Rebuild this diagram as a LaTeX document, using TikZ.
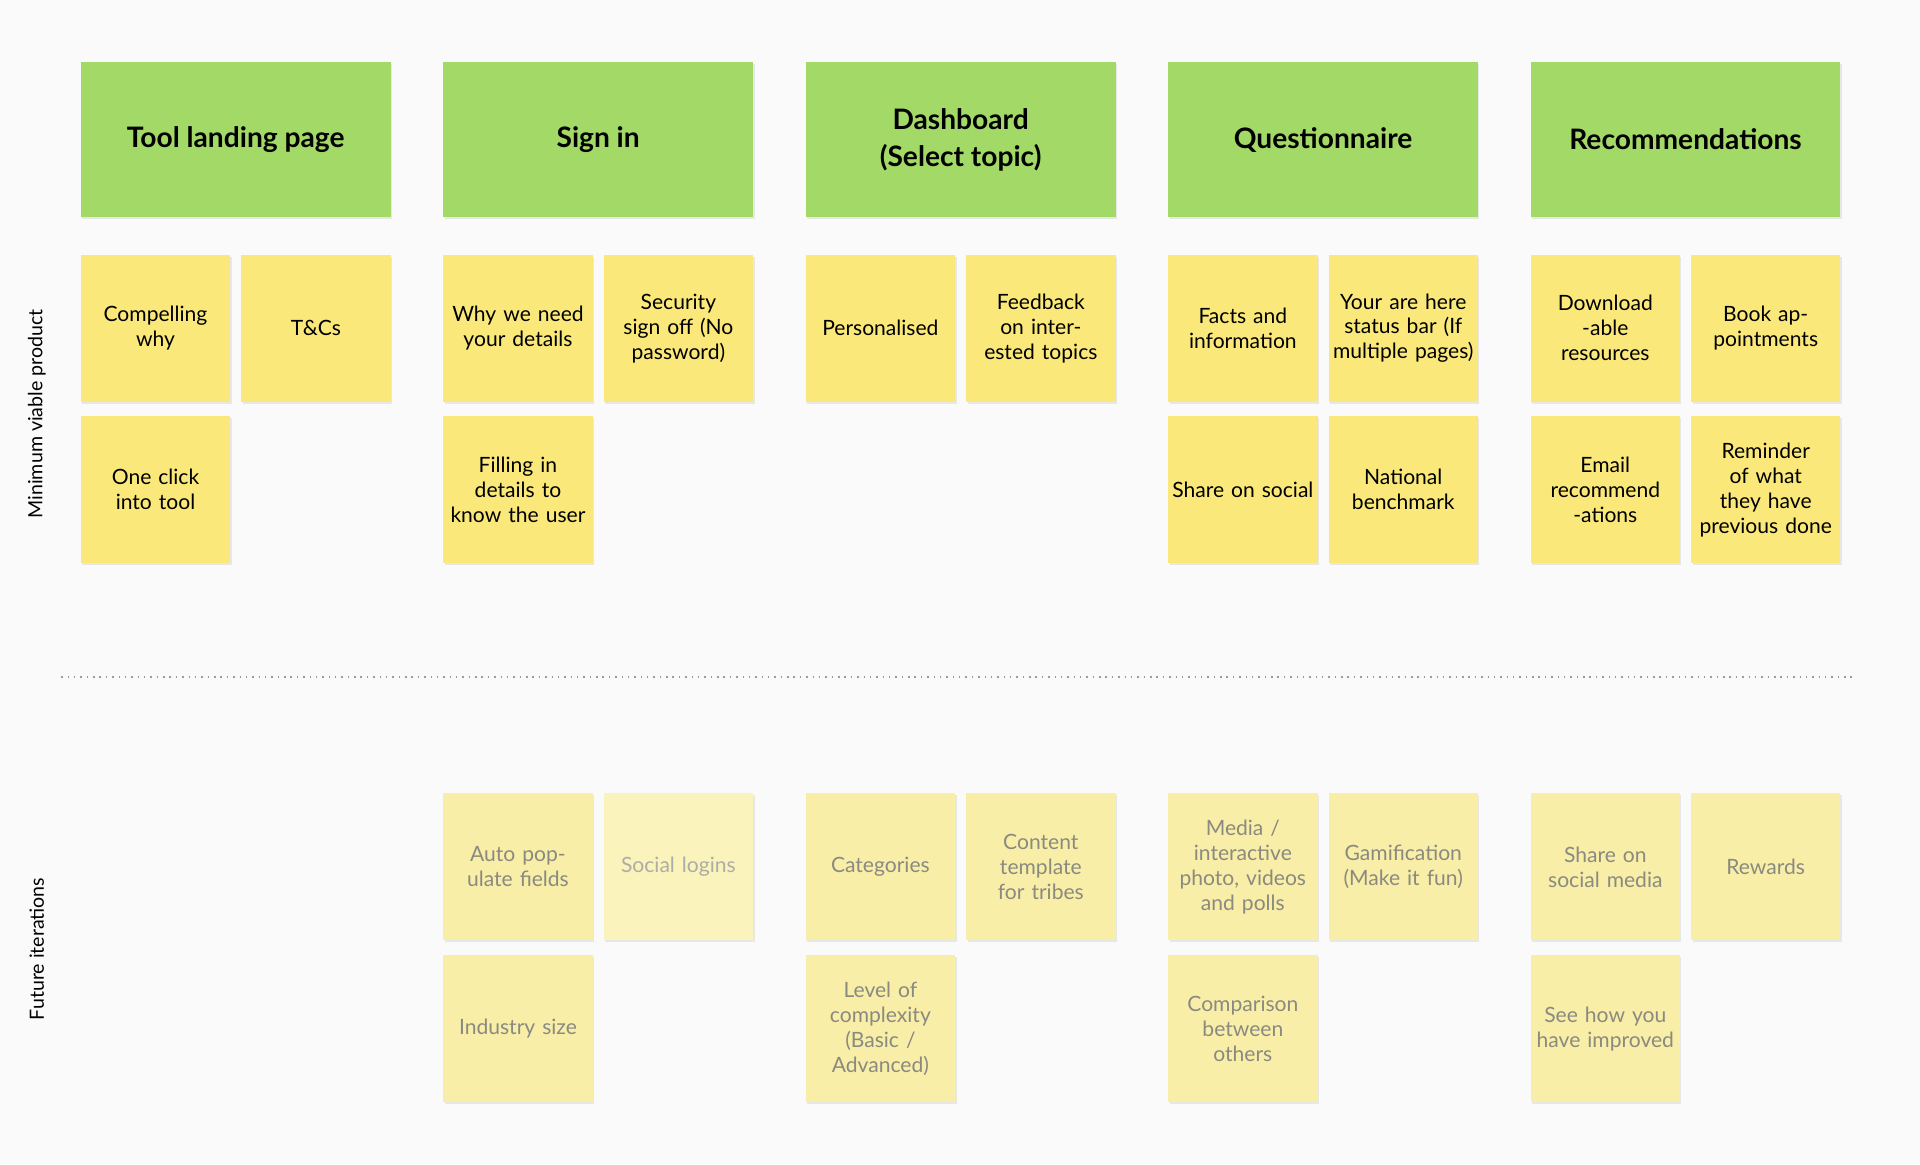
\documentclass[tikz,border=0pt]{standalone}
\usepackage{fontspec}
\setmainfont{Lato}
\usetikzlibrary{shadows}
\definecolor{bg}{HTML}{FAFAFA}
\definecolor{hdr}{HTML}{A3D966}
\definecolor{yel}{HTML}{FAE97A}
\definecolor{pale}{HTML}{F8EEA8}
\definecolor{paler}{HTML}{FAF3BC}
\definecolor{gtxt}{HTML}{8A8A80}
\tikzset{
 hdrbox/.style={fill=hdr,minimum width=126.5pt,minimum height=63pt,inner sep=0pt,align=center,font=\fontsize{11.5}{15}\selectfont\bfseries,drop shadow={opacity=0.15,shadow xshift=0.6pt,shadow yshift=-0.8pt}},
 notebox/.style={fill=yel,minimum width=61pt,minimum height=60pt,inner sep=0pt,text width=58pt,align=center,font=\fontsize{8.6}{10.2}\selectfont,drop shadow={opacity=0.15,shadow xshift=0.6pt,shadow yshift=-0.8pt}},
 futbox/.style={notebox,fill=pale,text=gtxt},
 futpale/.style={notebox,fill=paler,text=gtxt!70},
 side/.style={rotate=90,font=\fontsize{8}{10}\selectfont}
}
\newcommand{\nt}[5]{\node[#5] (#1) at (#2+61,#3+60) {#4};}
\begin{document}
\begin{tikzpicture}[x=0.5pt,y=-0.5pt]
\fill[bg] (0,0) rectangle (1568,951);
\useasboundingbox (0,0) rectangle (1568,951);
\node[hdrbox] (h1) at (192.5,114) {Tool landing page};
\node[hdrbox] (h2) at (488.5,114) {Sign in};
\node[hdrbox] (h3) at (784.5,114) {Dashboard\\(Select topic)};
\node[hdrbox] (h4) at (1080.5,114) {Questionnaire};
\node[hdrbox] (h5) at (1376.5,114) {Recommendations};
% MVP
\nt{a1}{66}{208}{Compelling why}{notebox}
\nt{a2}{197}{208}{T\&Cs}{notebox}
\nt{a3}{66}{340}{One click into tool}{notebox}
\nt{b1}{362}{208}{Why we need your details}{notebox}
\nt{b2}{493}{208}{Security sign off (No password)}{notebox}
\nt{b3}{362}{340}{Filling in details to know the user}{notebox}
\nt{c1}{658}{208}{Personalised}{notebox}
\nt{c2}{789}{208}{Feedback on interested topics}{notebox}
\nt{d1}{954}{208}{Facts and information}{notebox}
\nt{d2}{1085}{208}{Your are here status bar (If multiple pages)}{notebox}
\nt{d3}{954}{340}{Share on social}{notebox}
\nt{d4}{1085}{340}{National benchmark}{notebox}
\nt{e1}{1250}{208}{Download\\-able\\resources}{notebox}
\nt{e2}{1381}{208}{Book appointments}{notebox}
\nt{e3}{1250}{340}{Email\\recommend\\-ations}{notebox}
\nt{e4}{1381}{340}{Reminder of what they have previous done}{notebox}
% future
\nt{f1}{362}{648}{Auto populate fields}{futbox}
\nt{f2}{493}{648}{Social logins}{futpale}
\nt{f3}{362}{780}{Industry size}{futbox}
\nt{g1}{658}{648}{Categories}{futbox}
\nt{g2}{789}{648}{Content template for tribes}{futbox}
\nt{g3}{658}{780}{Level of complexity (Basic / Advanced)}{futbox}
\nt{k1}{954}{648}{Media / interactive photo, videos and polls}{futbox}
\nt{k2}{1085}{648}{Gamification (Make it fun)}{futbox}
\nt{k3}{954}{780}{Comparison between others}{futbox}
\nt{m1}{1250}{648}{Share on social media}{futbox}
\nt{m2}{1381}{648}{Rewards}{futbox}
\nt{m3}{1250}{780}{See how you have improved}{futbox}
\coordinate (l1) at (50,553);
\coordinate (l2) at (1515,553);
\draw[gray!80,line width=0.6pt,dotted] (l1) -- (l2);
\node[side] (s1) at (30,338) {Minimum viable product};
\node[side] (s2) at (30,775) {Future iterations};
\end{tikzpicture}
\end{document}
